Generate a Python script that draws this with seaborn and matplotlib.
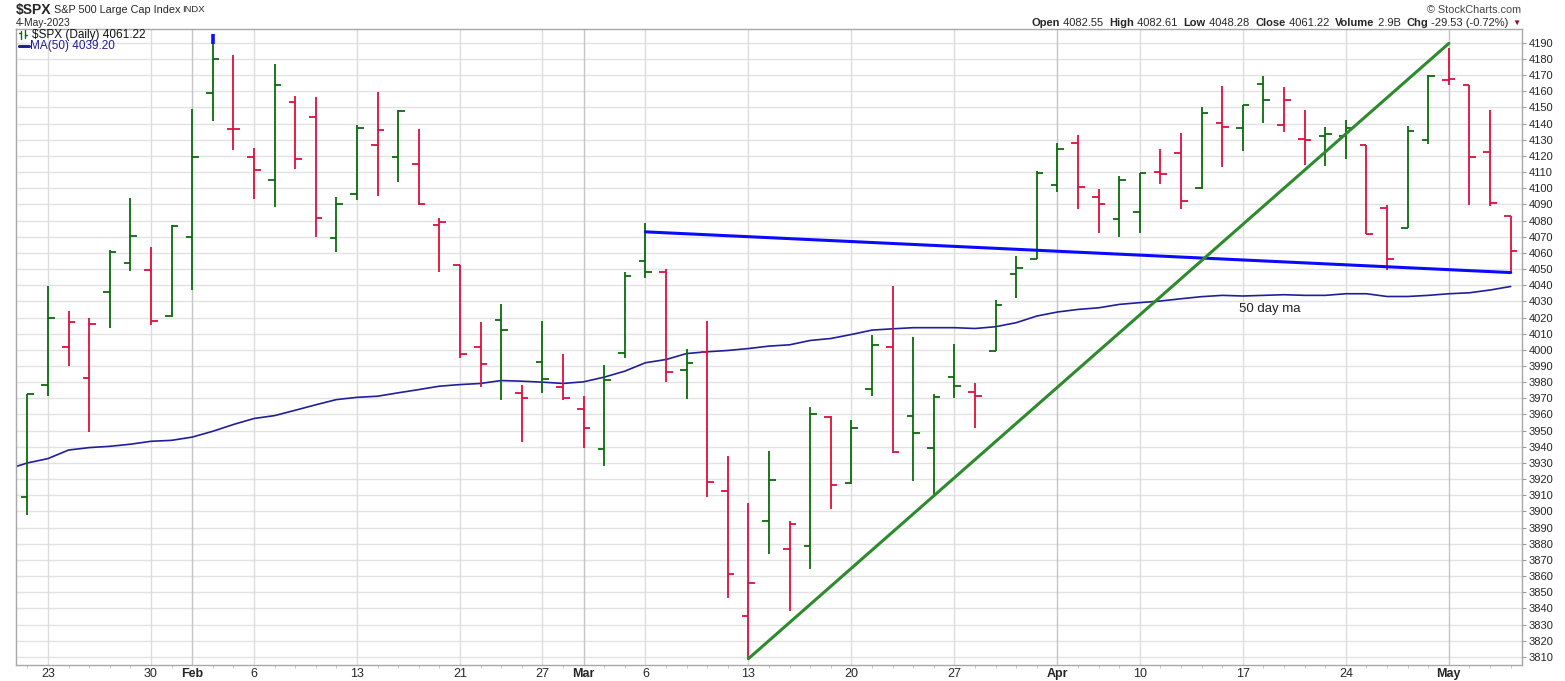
#!/usr/bin/env python3
# SPX daily OHLC bars with 50 day MA and hand drawn trend lines
import numpy as np
import pandas as pd
import seaborn as sns
import matplotlib
matplotlib.use('Agg')
import matplotlib.pyplot as plt
from matplotlib.lines import Line2D

################################################
## data
dates = ['2023-01-20','2023-01-23','2023-01-24','2023-01-25','2023-01-26','2023-01-27','2023-01-30','2023-01-31',
         '2023-02-01','2023-02-02','2023-02-03','2023-02-06','2023-02-07','2023-02-08','2023-02-09','2023-02-10',
         '2023-02-13','2023-02-14','2023-02-15','2023-02-16','2023-02-17','2023-02-21','2023-02-22','2023-02-23',
         '2023-02-24','2023-02-27','2023-02-28','2023-03-01','2023-03-02','2023-03-03','2023-03-06','2023-03-07',
         '2023-03-08','2023-03-09','2023-03-10','2023-03-13','2023-03-14','2023-03-15','2023-03-16','2023-03-17',
         '2023-03-20','2023-03-21','2023-03-22','2023-03-23','2023-03-24','2023-03-27','2023-03-28','2023-03-29',
         '2023-03-30','2023-03-31','2023-04-03','2023-04-04','2023-04-05','2023-04-06','2023-04-10','2023-04-11',
         '2023-04-12','2023-04-13','2023-04-14','2023-04-17','2023-04-18','2023-04-19','2023-04-20','2023-04-21',
         '2023-04-24','2023-04-25','2023-04-26','2023-04-27','2023-04-28','2023-05-01','2023-05-02','2023-05-03',
         '2023-05-04']
opens  = [3909.04,3978.14,4001.74,3982.71,4036.08,4053.72,4049.27,4020.85,4070.07,4158.68,4136.69,4119.57,
          4105.35,4153.47,4144.25,4068.92,4096.62,4126.70,4119.50,4114.75,4077.39,4052.35,4001.83,4018.60,
          3973.24,3992.36,3977.19,3963.34,3938.68,3998.02,4055.15,4048.26,3987.55,3998.66,3912.77,3835.12,
          3894.01,3876.74,3878.93,3958.69,3917.47,3975.89,4002.04,3959.21,3939.21,3982.93,3974.13,3999.53,
          4046.74,4056.18,4102.20,4128.03,4094.50,4081.15,4085.20,4110.29,4121.72,4100.04,4140.11,4137.17,
          4164.26,4139.33,4130.48,4132.14,4132.07,4126.43,4087.78,4075.29,4129.63,4166.79,4164.10,4122.25,
          4082.55]
highs  = [3972.96,4039.31,4023.92,4019.55,4061.57,4094.21,4063.85,4077.16,4148.95,4195.44,4182.36,4124.63,
          4176.54,4156.85,4156.23,4094.36,4138.90,4159.77,4148.11,4136.54,4081.51,4052.35,4017.37,4028.30,
          3978.25,4018.05,3997.50,3971.73,3990.84,4048.29,4078.49,4050.00,4000.41,4017.81,3934.05,3905.05,
          3937.29,3894.26,3964.46,3958.91,3956.62,4009.08,4039.49,4007.66,3972.74,4003.83,3979.20,4030.59,
          4057.85,4110.75,4127.66,4133.13,4099.69,4107.32,4109.50,4124.26,4134.37,4150.26,4163.19,4151.72,
          4169.48,4162.57,4148.57,4138.02,4142.41,4126.43,4089.67,4138.24,4170.06,4186.92,4164.10,4148.30,
          4082.61]
lows   = [3897.86,3971.64,3989.79,3949.06,4013.29,4048.70,4015.55,4020.44,4037.20,4141.88,4123.36,4093.38,
          4088.39,4111.67,4069.67,4060.79,4092.67,4095.01,4103.98,4089.49,4047.95,3995.19,3976.90,3969.19,
          3943.08,3973.55,3968.98,3939.05,3928.16,3995.17,4044.61,3980.31,3969.76,3908.70,3846.32,3808.86,
          3873.63,3838.24,3864.11,3901.27,3916.89,3971.19,3936.17,3919.05,3909.16,3970.49,3951.53,3999.53,
          4032.10,4056.18,4097.52,4086.87,4072.56,4069.84,4072.55,4102.61,4086.94,4099.40,4113.20,4123.18,
          4140.36,4134.49,4114.57,4113.86,4117.77,4071.38,4049.35,4075.29,4127.18,4164.12,4089.72,4088.86,
          4048.28]
closes = [3972.61,4019.81,4016.95,4016.22,4060.43,4070.56,4017.77,4076.60,4119.21,4179.76,4136.48,4111.08,
          4164.00,4117.86,4081.50,4090.46,4137.29,4136.13,4147.60,4090.41,4079.09,3997.34,3991.05,4012.32,
          3970.04,3982.24,3970.15,3951.39,3981.35,4045.64,4048.42,3986.37,3992.01,3918.32,3861.59,3855.76,
          3919.29,3891.93,3960.28,3916.64,3951.57,4002.87,3936.97,3948.72,3970.99,3977.53,3971.27,4027.81,
          4050.83,4109.31,4124.51,4100.60,4090.38,4105.02,4109.11,4108.94,4091.95,4146.22,4137.64,4151.32,
          4154.87,4154.52,4129.79,4133.52,4137.04,4071.63,4055.99,4135.35,4169.48,4167.87,4119.58,4090.75,
          4061.22]
ma50   = [3930.0,3932.7,3938.0,3939.5,3940.3,3941.6,3943.4,3944.0,3946.0,3949.6,3953.8,3957.5,3959.3,3962.6,
          3966.0,3969.2,3970.6,3971.3,3973.4,3975.4,3977.5,3978.5,3979.2,3981.0,3980.6,3980.0,3979.2,3980.2,
          3983.1,3986.8,3992.0,3994.0,3997.7,3998.8,3999.6,4000.8,4002.3,4003.1,4005.8,4007.0,4009.5,4012.2,
          4013.0,4013.7,4013.7,4013.7,4013.2,4014.3,4016.8,4020.9,4023.4,4025.0,4026.0,4028.1,4029.2,4030.2,
          4031.6,4032.9,4033.7,4033.3,4033.7,4034.1,4033.7,4033.7,4034.7,4034.7,4033.0,4033.0,4033.7,4034.7,
          4035.3,4037.0,4039.2]
prev_close = 3898.85   # 19-Jan close, colours first bar
prev_ma50  = 3926.0    # 19-Jan MA, only its tail shows at the left edge

## trend lines (start / end dates and levels)
res_dates  = ['2023-03-06', '2023-05-04']
res_levels = [4073.0, 4047.8]
sup_dates  = ['2023-03-13', '2023-05-01']
sup_levels = [3808.9, 4189.6]

## x-axis labels
tick_dates  = ['2023-01-23','2023-01-30','2023-02-01','2023-02-06','2023-02-13','2023-02-21','2023-02-27',
               '2023-03-01','2023-03-06','2023-03-13','2023-03-20','2023-03-27','2023-04-03','2023-04-10',
               '2023-04-17','2023-04-24','2023-05-01']
tick_labels = ['23','30','Feb','6','13','21','27','Mar','6','13','20','27','Apr','10','17','24','May']
month_labels = ['Feb', 'Mar', 'Apr', 'May']

################################################
GREEN = '#0b6b0b'
RED   = '#dc0f3f'
NAVY  = '#1f1f9a'

df = pd.DataFrame({'date': dates, 'open': opens, 'high': highs, 'low': lows,
                   'close': closes, 'ma50': ma50})
df['idx'] = np.arange(len(df))
pc = np.concatenate([[prev_close], df['close'].values[:-1]])
df['color'] = np.where(df['close'].values >= pc, GREEN, RED)
pos = dict(zip(df['date'], df['idx']))
ma_df = pd.DataFrame({'idx': np.arange(-1, len(df)), 'ma50': [prev_ma50] + ma50})

sns.set_style('white')
plt.rcParams['font.family'] = ['Liberation Sans', 'DejaVu Sans']

W, H = 1565, 681
fig = plt.figure(figsize=(W/100, H/100), dpi=100)
ax = fig.add_axes([16/W, 1-665/H, (1522-16)/W, (665-29)/H])

def px(x, y):
  return x/W, 1-y/H

def pline(xs, ys, **kw):
  fig.add_artist(Line2D([x/W for x in xs], [1-y/H for y in ys], transform=fig.transFigure, **kw))

## grid
yt = np.arange(3810, 4191, 10)
for y in yt:
  ax.axhline(y, color='#e2e2e2', lw=1.0, zorder=0)
for d, l in zip(tick_dates, tick_labels):
  c = '#c4c4c4' if l in month_labels else '#dcdcdc'
  ax.axvline(pos[d], color=c, lw=1.0, zorder=0)

## OHLC bars
tk = 0.32
ax.vlines(df['idx'], df['low'], df['high'], colors=df['color'], lw=1.3, zorder=3)
ax.hlines(df['open'], df['idx']-tk, df['idx'], colors=df['color'], lw=1.3, zorder=3)
ax.hlines(df['close'], df['idx'], df['idx']+tk, colors=df['color'], lw=1.3, zorder=3)
# blue flag at top of 2-Feb bar
i_top = df['high'].idxmax()
ax.vlines(i_top, df['high'][i_top]-6.5, df['high'][i_top], colors='#1010ff', lw=2.6, zorder=4)

## moving average and trend lines
sns.lineplot(data=ma_df, x='idx', y='ma50', color=NAVY, lw=1.2, ax=ax, zorder=2)
sns.lineplot(x=[pos[d] for d in res_dates], y=res_levels, color='#0a0aff', lw=2.2, ax=ax, zorder=5)
sns.lineplot(x=[pos[d] for d in sup_dates], y=sup_levels, color='#2d8a2d', lw=2.2, ax=ax, zorder=5)
ax.text(60.3, 4025, '50 day ma', fontsize=9.5, ha='center', va='center', color='#222222')

## axes
ax.set_xlim(-0.55, 72.55)
ax.set_ylim(3805, 4198.5)
ax.set(xlabel='', ylabel='')
ax.yaxis.tick_right()
ax.set_yticks(yt)
ax.set_yticklabels([str(v) for v in yt], fontsize=8)
ax.set_xticks([pos[d] for d in tick_dates])
ax.set_xticklabels(tick_labels, fontsize=9, family=['Liberation Sans Narrow', 'Liberation Sans'])
for t in ax.get_xticklabels():
  if t.get_text() in month_labels:
    t.set_fontweight('bold')
ax.set_xticks(df['idx'], minor=True)
ax.tick_params(axis='y', which='major', length=3, pad=2, color='#999999', right=True, left=False)
ax.tick_params(axis='x', which='major', length=0, pad=2)
ax.tick_params(axis='x', which='minor', length=2, color='#bbbbbb', bottom=True)
for s in ax.spines.values():
  s.set_color('#a8a8a8')
  s.set_linewidth(1.0)

## legend block inside the plot
pline([21, 21], [31, 39], color=GREEN, lw=1)
pline([25, 25], [30, 38], color=GREEN, lw=1)
pline([19, 21], [33, 33], color=GREEN, lw=1)
pline([25, 27], [35, 35], color=GREEN, lw=1)
pline([19, 29], [46, 46], color=NAVY, lw=2.2)
fig.text(*px(32, 35), '$SPX (Daily) 4061.22', fontsize=8.5, va='center', color='#111111')
fig.text(*px(30, 46), 'MA(50) 4039.20', fontsize=8.5, va='center', color=NAVY)

## header
fig.text(*px(16, 10), '$SPX', fontsize=10, fontweight='bold', va='center')
fig.text(*px(54, 10), 'S&P 500 Large Cap Index', fontsize=7.8, va='center')
fig.text(*px(182, 10), 'INDX', fontsize=6.8, va='center')
fig.text(*px(16, 23), '4-May-2023', fontsize=7.4, va='center')
fig.text(*px(1521, 10), '\u00a9 StockCharts.com', fontsize=7.8, va='center', ha='right', color='#444444')

pieces = [('Open', True), (' 4082.55  ', False), ('High', True), (' 4082.61  ', False),
          ('Low', True), (' 4048.28  ', False), ('Close', True), (' 4061.22  ', False),
          ('Volume', True), (' 2.9B  ', False), ('Chg', True), (' -29.53 (-0.72%) ', False)]
fig.canvas.draw()
r = fig.canvas.get_renderer()
txts = [fig.text(0, 1-23/H, s, fontsize=8, va='center', fontweight='bold' if b else 'normal')
        for s, b in pieces]
widths = [t.get_window_extent(renderer=r).width for t in txts]
x0 = 1512 - sum(widths)
for t, w in zip(txts, widths):
  t.set_x(x0/W)
  x0 += w
fig.text(*px(x0, 23), '\u25bc', fontsize=6, va='center', color='#8b0a2a')

fig.savefig('out.png', dpi=100)
